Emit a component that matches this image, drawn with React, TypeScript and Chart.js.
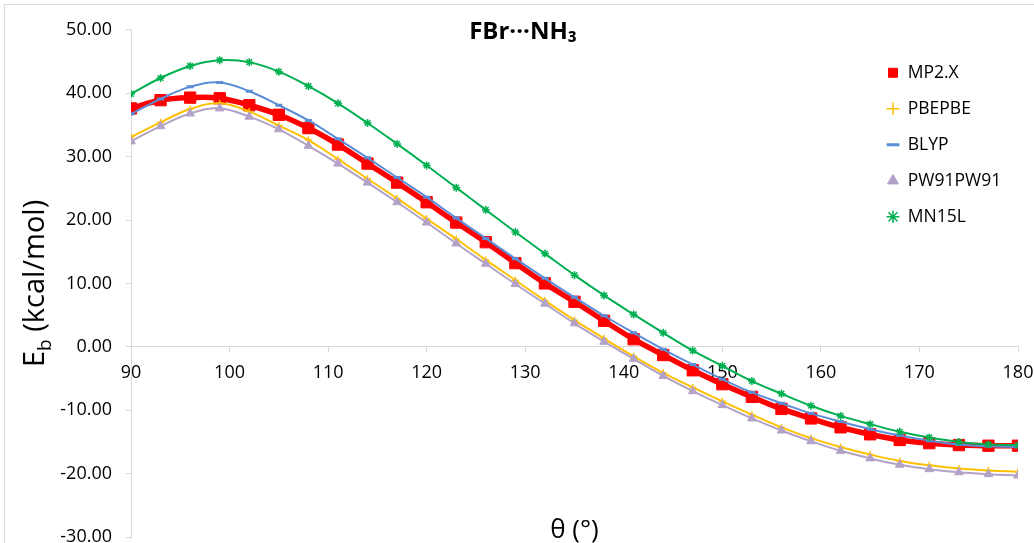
import React, { useEffect, useRef } from 'react';
import { Chart, registerables } from 'chart.js';

Chart.register(...registerables);

// ---------- data ----------
const angles = [90, 93, 96, 99, 102, 105, 108, 111, 114, 117, 120, 123, 126, 129, 132, 135, 138, 141, 144, 147, 150, 153, 156, 159, 162, 165, 168, 171, 174, 177, 180];

const mp2x = [37.6, 38.9, 39.3, 39.2, 38.1, 36.6, 34.5, 31.9, 28.9, 25.9, 22.8, 19.6, 16.5, 13.2, 10.0, 7.1, 4.1, 1.2, -1.3, -3.7, -5.9, -7.9, -9.8, -11.3, -12.7, -13.8, -14.7, -15.2, -15.5, -15.6, -15.6];
const pbepbe = [33.1, 35.4, 37.5, 38.4, 37.1, 34.9, 32.6, 29.6, 26.5, 23.4, 20.2, 17.0, 13.7, 10.5, 7.3, 4.2, 1.3, -1.5, -4.1, -6.4, -8.6, -10.7, -12.7, -14.4, -15.8, -17.0, -18.0, -18.7, -19.2, -19.5, -19.7];
const blyp = [36.7, 39.1, 41.0, 41.7, 40.3, 38.1, 35.7, 32.8, 29.8, 26.7, 23.6, 20.3, 17.1, 13.9, 10.8, 7.8, 4.9, 2.2, -0.4, -2.8, -5.1, -7.2, -8.9, -10.5, -11.8, -13.0, -14.0, -14.8, -15.4, -15.7, -15.8];
const pw91pw91 = [32.4, 34.8, 36.8, 37.6, 36.3, 34.3, 31.7, 28.9, 25.9, 22.8, 19.6, 16.3, 13.1, 9.9, 6.8, 3.7, 0.8, -1.9, -4.6, -7.0, -9.2, -11.3, -13.2, -14.9, -16.4, -17.6, -18.6, -19.3, -19.8, -20.1, -20.3];
const mn15l = [39.9, 42.4, 44.3, 45.2, 44.9, 43.4, 41.1, 38.4, 35.3, 32.0, 28.6, 25.1, 21.6, 18.1, 14.7, 11.3, 8.1, 5.1, 2.2, -0.6, -3.0, -5.4, -7.4, -9.3, -10.9, -12.2, -13.4, -14.3, -15.0, -15.4, -15.5];

const seriesNames = ['MP2.X', 'PBEPBE', 'BLYP', 'PW91PW91', 'MN15L'];

const chartTitle = 'FBr···NH₃';
const xTitle = 'θ (°)';
const yTitleMain = 'E';
const yTitleSub = 'b';
const yTitleRest = ' (kcal/mol)';

const xMin = 90;
const xMax = 180;
const xStep = 10;
const yMin = -30;
const yMax = 50;
const yStep = 10;

// ---------- layout constants ----------
const CANVAS_W = 1045;
const CANVAS_H = 575;
const FONT = "'Open Sans', 'Noto Sans', sans-serif";
const TEXT_COLOR = '#000000';
const AXIS_COLOR = '#d9d9d9';

const LEGEND_X = 882; // x of first marker box start (canvas coords)
const LEGEND_Y = 59; // y of first item top (canvas coords)

const toPoints = (vals: number[]) => angles.map((a, i) => ({ x: a, y: vals[i] }));

const overlayPlugin = {
  id: 'overlayTexts',
  afterLayout(chart: any) {
    const lg = chart.legend;
    if (lg) {
      const pad = lg.options.labels.padding;
      const w = lg.width;
      const h = lg.height;
      lg.left = LEGEND_X - pad;
      lg.right = lg.left + w + 60;
      lg.top = LEGEND_Y - pad;
      lg.bottom = lg.top + h;
      if (lg.adjustHitBoxes) lg.adjustHitBoxes();
    }
  },
  afterDraw(chart: any) {
    const ctx = chart.ctx as CanvasRenderingContext2D;
    const ca = chart.chartArea;
    ctx.save();
    ctx.fillStyle = TEXT_COLOR;
    ctx.textAlign = 'center';
    ctx.textBaseline = 'middle';
    // chart title
    ctx.font = `bold 24px ${FONT}`;
    ctx.fillText(chartTitle, 518, 27);
    // x axis title
    ctx.font = `26px ${FONT}`;
    ctx.fillText(xTitle, (ca.left + ca.right) / 2, 526);
    // y axis title with subscript
    ctx.translate(29, (ca.top + ca.bottom) / 2);
    ctx.rotate(-Math.PI / 2);
    ctx.textAlign = 'left';
    ctx.textBaseline = 'alphabetic';
    const mainFont = `29px ${FONT}`;
    const subFont = `19px ${FONT}`;
    ctx.font = mainFont;
    const wE = ctx.measureText(yTitleMain).width;
    const wRest = ctx.measureText(yTitleRest).width;
    ctx.font = subFont;
    const wSub = ctx.measureText(yTitleSub).width;
    const total = wE + wSub + wRest;
    let x0 = -total / 2;
    const base = 10;
    ctx.font = mainFont;
    ctx.fillText(yTitleMain, x0, base);
    x0 += wE;
    ctx.font = subFont;
    ctx.fillText(yTitleSub, x0, base + 7);
    x0 += wSub;
    ctx.font = mainFont;
    ctx.fillText(yTitleRest, x0, base);
    ctx.restore();
  },
};

export default function App() {
  const canvasRef = useRef<HTMLCanvasElement | null>(null);

  useEffect(() => {
    const canvas = canvasRef.current;
    if (!canvas) return;

    const styles = [
      { color: '#FF0000', pointStyle: 'rect', radius: 8, pbw: 1, bw: 5.5, order: 5 },
      { color: '#FFC000', pointStyle: 'cross', radius: 3.5, pbw: 1.5, bw: 2, order: 4 },
      { color: '#5B8ED6', pointStyle: 'line', radius: 3.5, pbw: 3, bw: 2, order: 3 },
      { color: '#B3A2C7', pointStyle: 'triangle', radius: 5, pbw: 1, bw: 2, order: 2 },
      { color: '#00B050', pointStyle: 'star', radius: 4, pbw: 1.5, bw: 2, order: 1 },
    ];
    const values = [mp2x, pbepbe, blyp, pw91pw91, mn15l];

    const datasets = seriesNames.map((name, i) => ({
      label: name,
      data: toPoints(values[i]),
      borderColor: styles[i].color,
      backgroundColor: styles[i].color,
      pointBackgroundColor: styles[i].color,
      pointBorderColor: styles[i].color,
      pointStyle: styles[i].pointStyle,
      pointRadius: styles[i].radius,
      pointBorderWidth: styles[i].pbw,
      borderWidth: styles[i].bw,
      tension: 0.4,
      fill: false,
      order: styles[i].order,
    }));

    const chart = new Chart(canvas, {
      type: 'line',
      data: { datasets } as any,
      options: {
        responsive: false,
        animation: false,
        devicePixelRatio: 1,
        layout: { padding: { left: 0, top: 15, right: CANVAS_W - 1013, bottom: CANVAS_H - 532 } },
        font: { family: FONT },
        plugins: {
          title: { display: false },
          tooltip: { enabled: false },
          legend: {
            display: true,
            position: 'chartArea' as any,
            align: 'start',
            labels: {
              usePointStyle: true,
              boxWidth: 12,
              boxHeight: 9,
              padding: 18.5,
              color: TEXT_COLOR,
              font: { family: FONT, size: 17.5 },
              sort: (a: any, b: any) => a.datasetIndex - b.datasetIndex,
            },
          },
        },
        scales: {
          x: {
            type: 'linear',
            min: xMin,
            max: xMax,
            position: { y: 0 } as any,
            border: { display: true, color: AXIS_COLOR, width: 1 },
            grid: { drawOnChartArea: false, drawTicks: true, tickLength: 5, color: AXIS_COLOR },
            ticks: {
              stepSize: xStep,
              autoSkip: false,
              maxRotation: 0,
              padding: 10,
              color: TEXT_COLOR,
              font: { family: FONT, size: 18 },
            },
          },
          y: {
            type: 'linear',
            min: yMin,
            max: yMax,
            border: { display: true, color: AXIS_COLOR, width: 1 },
            grid: { drawOnChartArea: false, drawTicks: true, tickLength: 5, color: AXIS_COLOR },
            ticks: {
              stepSize: yStep,
              autoSkip: false,
              padding: 14,
              color: TEXT_COLOR,
              font: { family: FONT, size: 18 },
              callback: (v: any) => Number(v).toFixed(2),
            },
            afterFit: (scale: any) => {
              scale.width = 126;
            },
          },
        },
      } as any,
      plugins: [overlayPlugin],
    });

    return () => {
      chart.destroy();
    };
  }, []);

  return (
    <div style={{ position: 'fixed', left: 0, top: 0, width: '100vw', height: '100vh', overflow: 'hidden', background: '#ffffff' }}>
      <div style={{ position: 'absolute', left: 4, top: 4, width: CANVAS_W, height: CANVAS_H, border: `1px solid ${AXIS_COLOR}` }}>
        <canvas ref={canvasRef} width={CANVAS_W} height={CANVAS_H} style={{ display: 'block', width: CANVAS_W, height: CANVAS_H }} />
      </div>
    </div>
  );
}
